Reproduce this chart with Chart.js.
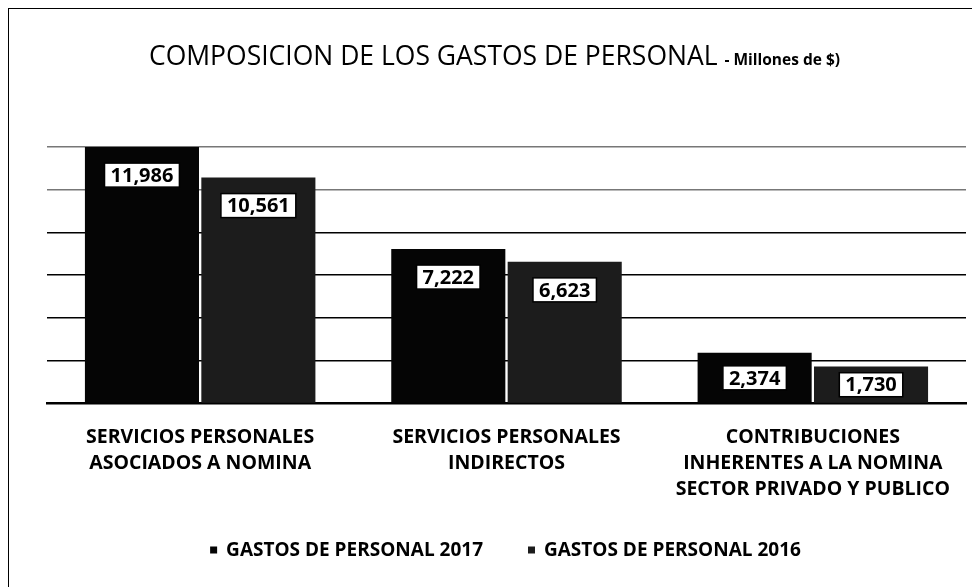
<!DOCTYPE html>
<html>
<head>
<meta charset="utf-8">
<script src="https://cdn.jsdelivr.net/npm/chart.js@4/dist/chart.umd.min.js"></script>
<style>
  body { margin: 0; background: #fff; }
  #wrap { position: absolute; left: 8px; top: 8px; width: 964px; height: 579px;
          border-left: 1px solid #000; border-top: 1px solid #000; }
</style>
</head>
<body>
<div id="wrap"><canvas id="gastos" width="963" height="578"></canvas></div>
<script>
// COMPOSICION DE LOS GASTOS DE PERSONAL

const categorias = [
	["SERVICIOS PERSONALES", "ASOCIADOS A NOMINA"],
	["SERVICIOS PERSONALES", "INDIRECTOS"],
	["CONTRIBUCIONES", "INHERENTES A LA NOMINA", "SECTOR PRIVADO Y PUBLICO"],
];
const gastos2017 = [11986, 7222, 2374];
const gastos2016 = [10561, 6623, 1730];
const series = ["GASTOS DE PERSONAL 2017", "GASTOS DE PERSONAL 2016"];

const titulo = "COMPOSICION DE LOS GASTOS DE PERSONAL";
const subtitulo = "- Millones de $)";

const fuente = "'Open Sans', 'DejaVu Sans', sans-serif";

// title drawn by hand, two sizes on one line
const tituloPlugin = {
	id: "tituloMixto",
	afterDraw(chart) {
		const ctx = chart.ctx;
		ctx.save();
		ctx.fillStyle = "#000";
		ctx.textBaseline = "alphabetic";
		ctx.font = "400 26.5px " + fuente;
		const w1 = ctx.measureText(titulo + " ").width;
		ctx.font = "700 15.5px " + fuente;
		const w2 = ctx.measureText(subtitulo).width;
		const x = (chart.width - w1 - w2) / 2 + 4;
		ctx.font = "400 26.5px " + fuente;
		ctx.fillText(titulo + " ", x, 56);
		ctx.font = "700 15.5px " + fuente;
		ctx.fillText(subtitulo, x + w1, 56);
		ctx.restore();
	},
};

// value boxes inside the top of every bar
const etiquetasPlugin = {
	id: "etiquetas",
	afterDatasetsDraw(chart) {
		const ctx = chart.ctx;
		ctx.save();
		ctx.font = "700 20px " + fuente;
		ctx.textAlign = "center";
		ctx.textBaseline = "middle";
		chart.data.datasets.forEach((ds, i) => {
			chart.getDatasetMeta(i).data.forEach((bar, j) => {
				const txt = ds.data[j].toLocaleString("en-US");
				const alto = bar.base - bar.y;
				const cy = alto > 70 ? bar.y + 28 : (bar.y + bar.base) / 2;
				const w = ctx.measureText(txt).width + 12;
				const h = 24;
				ctx.fillStyle = "#fff";
				ctx.fillRect(bar.x - w / 2, cy - h / 2, w, h);
				ctx.strokeStyle = "#000";
				ctx.lineWidth = 1.5;
				ctx.strokeRect(bar.x - w / 2, cy - h / 2, w, h);
				ctx.fillStyle = "#000";
				ctx.fillText(txt, bar.x, cy + 1);
			});
		});
		ctx.restore();
	},
};

// legend with the wide gap between items
const leyendaPlugin = {
	id: "leyenda",
	afterDraw(chart) {
		const ctx = chart.ctx;
		const ds = chart.data.datasets;
		const caja = 7, sep = 9, hueco = 45;
		ctx.save();
		ctx.font = "700 19px " + fuente;
		ctx.textBaseline = "middle";
		const anchos = ds.map((d) => caja + sep + ctx.measureText(d.label).width);
		const total = anchos.reduce((a, b) => a + b, 0) + hueco * (ds.length - 1);
		let x = chart.width / 2 + 15 - total / 2;
		const y = 541;
		ds.forEach((d, i) => {
			ctx.fillStyle = d.backgroundColor;
			ctx.fillRect(x, y - caja / 2, caja, caja);
			ctx.fillStyle = "#000";
			ctx.fillText(d.label, x + caja + sep, y + 1);
			x += anchos[i] + hueco;
		});
		ctx.restore();
	},
};

const gastosChart = new Chart(document.getElementById("gastos"), {
	type: "bar",
	data: {
		labels: categorias,
		datasets: [
			{
				label: series[0],
				data: gastos2017,
				backgroundColor: "#050505",
				borderWidth: 0,
				barPercentage: 0.98,
				categoryPercentage: 0.76,
			},
			{
				label: series[1],
				data: gastos2016,
				backgroundColor: "#1c1c1c",
				borderWidth: 0,
				barPercentage: 0.98,
				categoryPercentage: 0.76,
			},
		],
	},
	options: {
		responsive: false,
		animation: false,
		layout: { padding: { left: 38, right: 6, top: 95, bottom: 71 } },
		plugins: {
			legend: { display: false },
			tooltip: { enabled: false },
		},
		scales: {
			x: {
				grid: { display: false },
				border: { display: true, color: "#000", width: 2.5 },
				ticks: {
					color: "#000",
					font: { family: fuente, size: 19.5, weight: "700", lineHeight: 1.34 },
					padding: 13,
					maxRotation: 0,
				},
			},
			y: {
				min: 0,
				max: 14000,
				ticks: { display: false, stepSize: 2000 },
				border: { display: false },
				grid: {
					drawTicks: false,
					lineWidth: 1.5,
					color: (c) => {
						const v = c.tick.value;
						if (v === 0 || v === 14000) return "rgba(0,0,0,0)";
						if (v >= 10000) return "#777";
						return "#000";
					},
				},
			},
		},
	},
	plugins: [tituloPlugin, etiquetasPlugin, leyendaPlugin],
});
</script>
</body>
</html>
